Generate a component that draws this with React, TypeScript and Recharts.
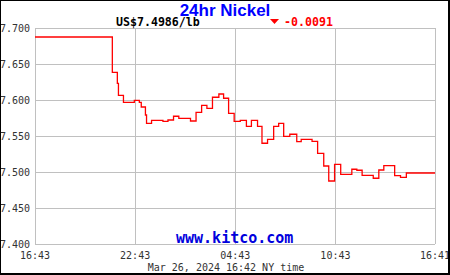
import React from "react";
import { LineChart, Line, XAxis, YAxis, CartesianGrid } from "recharts";

// minutes since 16:43 (Mar 25)
const minutes = [
  0, 278, 296, 300, 318, 357, 375, 382, 397, 401, 419, 460, 478, 498, 517, 559,
  579, 599, 618, 638, 661, 678, 696, 716, 738, 760, 778, 800, 816, 836, 858, 876,
  894, 916, 941, 957, 996, 1016, 1038, 1056, 1077, 1099, 1139, 1157, 1176, 1216,
  1236, 1254, 1293, 1314, 1335, 1438,
];
const prices = [
  7.6875, 7.6385, 7.6232, 7.6065, 7.5968, 7.5996, 7.5968, 7.5903, 7.5792, 7.5676,
  7.5718, 7.5704, 7.5722, 7.5774, 7.5746, 7.5708, 7.5829, 7.5926, 7.5885, 7.6038,
  7.6083, 7.6024, 7.5815, 7.5704, 7.5718, 7.5635, 7.5718, 7.5635, 7.5399, 7.5454,
  7.5635, 7.5676, 7.5496, 7.5524, 7.5421, 7.5454, 7.5426, 7.526, 7.5083, 7.4875,
  7.5107, 7.4968, 7.5038, 7.5024, 7.4954, 7.4913, 7.5028, 7.5088, 7.4949, 7.4926,
  7.4986, 7.4986,
];
const xTicks = [0, 360, 720, 1080, 1438];
const xTickLabels = ["16:43", "22:43", "04:43", "10:43", "16:41"];
const yTicks = [7.4, 7.45, 7.5, 7.55, 7.6, 7.65, 7.7];

const titleText = "24hr Nickel";
const priceText = "US$7.4986/lb";
const changeText = "-0.0091";
const siteText = "www.kitco.com";
const dateText = "Mar 26, 2024 16:42 NY time";

const data = minutes.map((t, i) => ({ t, p: prices[i] }));

const mono = "'DejaVu Sans Mono', monospace";

export default function App() {
  return (
    <div style={{ position: "absolute", left: 0, top: 0, width: 450, height: 275, background: "#fff" }}>
      <LineChart
        width={450}
        height={275}
        data={data}
        margin={{ top: 28, right: 15, bottom: 0, left: 0 }}
      >
        <CartesianGrid stroke="#c0c0c0" strokeWidth={1} shapeRendering="crispEdges" />
        <XAxis
          dataKey="t"
          type="number"
          domain={[0, 1438]}
          ticks={xTicks}
          tickFormatter={(v: number) => xTickLabels[xTicks.indexOf(v)] ?? ""}
          axisLine={false}
          tickLine={false}
          tickSize={0}
          tickMargin={8}
          height={31}
          interval={0}
          tick={{ fontFamily: mono, fontSize: 10, fill: "#333" }}
        />
        <YAxis
          type="number"
          domain={[7.4, 7.7]}
          ticks={yTicks}
          tickFormatter={(v: number) => v.toFixed(3)}
          axisLine={false}
          tickLine={false}
          tickSize={0}
          tickMargin={5}
          width={35}
          interval={0}
          tick={{ fontFamily: mono, fontSize: 10, fill: "#333" }}
        />
        <Line
          dataKey="p"
          type="stepAfter"
          stroke="#ff0000"
          strokeWidth={1.3}
          dot={false}
          activeDot={false}
          isAnimationActive={false}
        />
      </LineChart>
      <svg
        width={450}
        height={275}
        style={{ position: "absolute", left: 0, top: 0, pointerEvents: "none" }}
      >
        <text x={225} y={16} textAnchor="middle" fontFamily="'Liberation Sans', Arial, sans-serif" fontWeight="bold" fontSize={17} fill="#0000ff">
          {titleText}
        </text>
        <text x={116} y={26} fontFamily={mono} fontWeight="bold" fontSize={11.6} fill="#000">
          {priceText}
        </text>
        <polygon points="270,19 279,19 274.5,24" fill="#ff0000" />
        <text x={284} y={26} fontFamily={mono} fontWeight="bold" fontSize={11.6} fill="#ff0000">
          {changeText}
        </text>
        <text x={176} y={243} fontFamily={mono} fontWeight="bold" fontSize={15} fill="#0000dd">
          {siteText}
        </text>
        <text x={226} y={271} textAnchor="middle" fontFamily={mono} fontSize={10} fill="#333">
          {dateText}
        </text>
      </svg>
      <div
        style={{
          position: "absolute",
          left: 0,
          top: 0,
          width: 450,
          height: 275,
          boxSizing: "border-box",
          borderLeft: "1px solid #000",
          borderTop: "1px solid #000",
          borderRight: "2px solid #000",
          borderBottom: "2px solid #000",
          pointerEvents: "none",
        }}
      />
    </div>
  );
}
